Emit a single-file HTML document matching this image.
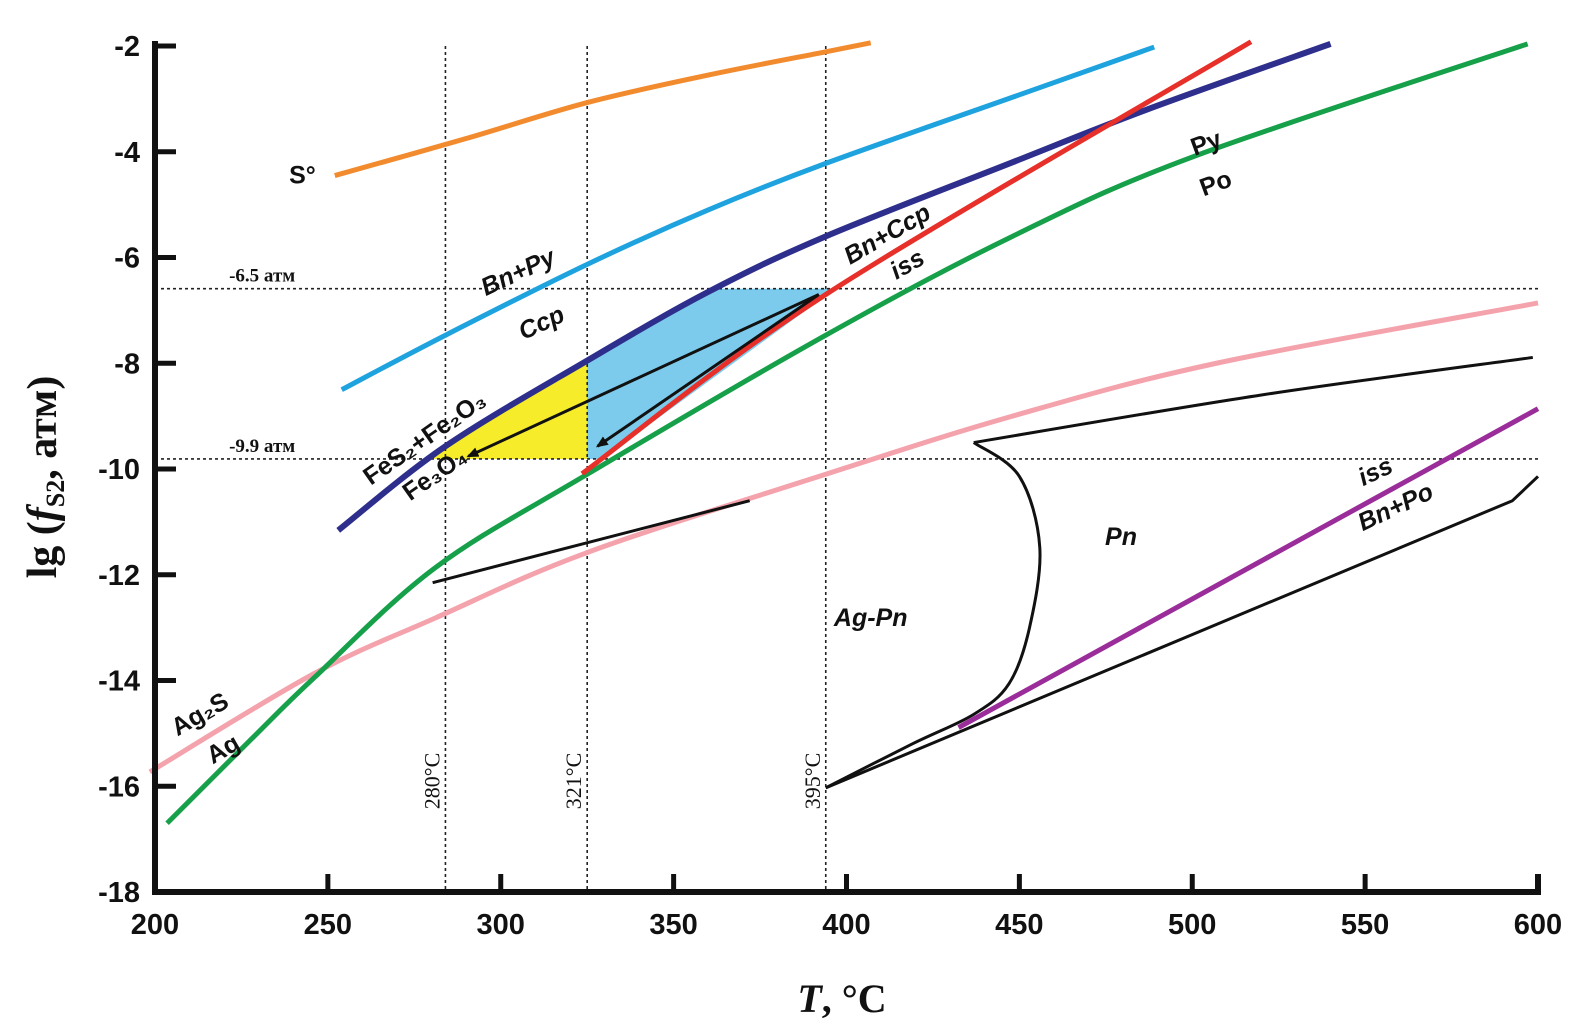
<!DOCTYPE html>
<html><head><meta charset="utf-8"><style>
html,body{margin:0;padding:0;background:#fff;}
svg{display:block;}
.tk{font-family:"Liberation Sans",sans-serif;font-weight:bold;font-size:29px;fill:#111;}
.lb{font-family:"Liberation Sans",sans-serif;font-weight:bold;font-style:italic;font-size:25px;fill:#111;}
.sf{font-family:"Liberation Serif",serif;fill:#111;}
</style></head><body>
<svg id="chart" width="1593" height="1027" viewBox="0 0 1593 1027" xmlns="http://www.w3.org/2000/svg"></svg>
<script>
const xTicks=[200,250,300,350,400,450,500,550,600];
const yTicks=[-2,-4,-6,-8,-10,-12,-14,-16,-18];
const sulfurT=[252,290,325,360,394,407];
const sulfurV=[-4.45,-3.75,-3.07,-2.55,-2.11,-1.94];
const cyanT=[254,284,325,360,394,448,489];
const cyanV=[-8.5,-7.47,-6.13,-5.1,-4.22,-2.97,-2.02];
const navyT=[253,284,325,360,394,448,487,540];
const navyV=[-11.16,-9.57,-7.95,-6.65,-5.6,-4.2,-3.2,-1.96];
const redT=[323.5,394,517];
const redV=[-10.09,-6.7,-1.92];
const greenT=[203.5,228,246,281,325,394,448,500,597];
const greenV=[-16.7,-15.1,-13.95,-11.87,-10.1,-7.47,-5.6,-4.1,-1.96];
const pinkT=[198.5,246,281,325,394,448,507,600];
const pinkV=[-15.73,-13.87,-12.82,-11.58,-10.1,-9.0,-8.0,-6.86];
const agPnT=[280.3,372];
const agPnV=[-12.15,-10.6];
const pnTopT=[436.8,520,598.5];
const pnTopV=[-9.5,-8.6,-7.89];
const pnCurveT=[436.8,450,455.9,452.9,447,436.8,419,394];
const pnCurveV=[-9.5,-10.14,-11.48,-13.01,-14.06,-14.64,-15.2,-16.03];
const purpleT=[432.4,600];
const purpleV=[-14.89,-8.86];
const lowerT=[394,592.6,600];
const lowerV=[-16.03,-10.6,-10.14];
const vLines=[284,325,394];
const vLabels=["280°C","321°C","395°C"];
const hLines=[-6.59,-9.81];
const hLabels=["-6.5 атм","-9.9 атм"];

const svg=document.getElementById('chart');
const NS='http://www.w3.org/2000/svg';
function X(t){return 155+(t-200)*(1538-155)/400;}
function Y(v){return 46+(-2-v)*(892-46)/16;}
function mk(tag,at,parent){const e=document.createElementNS(NS,tag);for(const k in at)e.setAttribute(k,at[k]);(parent||svg).appendChild(e);return e;}
function smooth(T,V,lin){
  const p=T.map((t,i)=>[X(t),Y(V[i])]);
  let d='M'+p[0][0]+','+p[0][1];
  for(let i=0;i<p.length-1;i++){
    if(lin){d+=' L'+p[i+1];continue;}
    const p0=p[i-1]||p[i],p1=p[i],p2=p[i+1],p3=p[i+2]||p2;
    const c1=[p1[0]+(p2[0]-p0[0])/6,p1[1]+(p2[1]-p0[1])/6];
    const c2=[p2[0]-(p3[0]-p1[0])/6,p2[1]-(p3[1]-p1[1])/6];
    d+=' C'+c1+' '+c2+' '+p2;
  }
  return d;
}
function interp(T,V,t){for(let i=0;i<T.length-1;i++){if(t>=T[i]&&t<=T[i+1])return V[i]+(V[i+1]-V[i])*(t-T[i])/(T[i+1]-T[i]);}return t<T[0]?V[0]:V[V.length-1];}
function inv(T,V,v){for(let i=0;i<T.length-1;i++){const a=V[i],b=V[i+1];if((v-a)*(v-b)<=0)return T[i]+(T[i+1]-T[i])*(v-a)/(b-a);}return T[0];}

// regions
const hi=hLines[0],lo=hLines[1],vx=vLines[1];
let yp=[];
const tA=inv(navyT,navyV,lo);
for(let t=tA;t<=vx;t+=2)yp.push([X(t),Y(interp(navyT,navyV,t))]);
yp.push([X(vx),Y(interp(navyT,navyV,vx))],[X(vx),Y(lo)]);
const yel=mk('polygon',{points:yp.map(p=>p.join(',')).join(' '),fill:'#f7ec2a'});


let bp=[];
const tB=inv(navyT,navyV,hi);
for(let t=vx;t<=tB;t+=2)bp.push([X(t),Y(interp(navyT,navyV,t))]);
const tR=inv(redT,redV,hi),tR2=inv(redT,redV,lo);
bp.push([X(tB),Y(hi)],[X(tR),Y(hi)],[X(tR2),Y(lo)],[X(vx),Y(lo)]);
const blu=mk('polygon',{points:bp.map(p=>p.join(',')).join(' '),fill:'#7ccbec'});



// dotted guide lines
vLines.forEach((t,i)=>{
  const l=mk('line',{x1:X(t),x2:X(t),y1:46,y2:892,stroke:'#222','stroke-width':1.6,'stroke-dasharray':'3,3'});
  
  
  const tx=mk('text',{x:0,y:0,transform:'translate('+(X(t)-6)+','+(Y(-15.9))+') rotate(-90)','text-anchor':'middle','class':'sf','font-size':'22'});
  tx.textContent=vLabels[i];
  
  
});
hLines.forEach((v,i)=>{
  const l=mk('line',{x1:155,x2:1538,y1:Y(v),y2:Y(v),stroke:'#222','stroke-width':1.6,'stroke-dasharray':'3,3'});
  
  
  const tx=mk('text',{x:X(231),y:Y(v)-7,'text-anchor':'middle','class':'sf','font-size':'19','font-weight':'bold'});
  tx.textContent=hLabels[i];
  
  
});

// curves
function curve(T,V,col,w,name,lin){
  const p=mk('path',{d:smooth(T,V,lin),fill:'none',stroke:col,'stroke-width':w,'stroke-linecap':'butt','stroke-linejoin':'round'});
  
  
}
curve(pinkT,pinkV,'#f4a3ac',5,'ag2s-ag-curve');
curve(sulfurT,sulfurV,'#f28a2e',5,'sulfur-curve');
curve(cyanT,cyanV,'#1fa3df',5,'bn-py-ccp-curve');
curve(navyT,navyV,'#2e2f8c',6,'fes2-fe3o4-curve');
curve(greenT,greenV,'#16a04a',5,'py-po-curve');
curve(redT,redV,'#e8302a',5,'bn-ccp-iss-curve');
curve(agPnT,agPnV,'#111',3,'ag-pn-curve',true);
curve(pnTopT,pnTopV,'#111',3,'pn-top-curve');
curve(pnCurveT,pnCurveV,'#111',3,'pn-boundary-curve');
curve(purpleT,purpleV,'#9a2d9a',5,'iss-bn-po-curve',true);
curve(lowerT,lowerV,'#111',3,'pn-lower-curve',true);

// arrows
const defs=mk('defs',{});
const m=mk('marker',{id:'ah',markerWidth:12,markerHeight:10,refX:10,refY:5,orient:'auto',markerUnits:'userSpaceOnUse'},defs);
mk('path',{d:'M0,0 L12,5 L0,10 z',fill:'#111'},m);
const arrowStartT=[392],arrowStartV=[-6.7];
const arrowEndT=[290.6,328],arrowEndV=[-9.76,-9.57];
arrowEndT.forEach((t,i)=>{
  const a=mk('line',{x1:X(arrowStartT[0]),y1:Y(arrowStartV[0]),x2:X(t),y2:Y(arrowEndV[i]),stroke:'#111','stroke-width':3,'marker-end':'url(#ah)'});
  
  
});

// axes
const ax=mk('path',{d:'M155,41 L155,892 L1538,892 L1538,874',fill:'none',stroke:'#111','stroke-width':6});


yTicks.forEach(v=>{
  mk('line',{x1:155,x2:176,y1:Y(v),y2:Y(v),stroke:'#111','stroke-width':5});
  const t=mk('text',{x:140,y:Y(v)+10,'text-anchor':'end','class':'tk'});
  t.textContent=String(v);
  
  
});
xTicks.forEach(v=>{
  mk('line',{x1:X(v),x2:X(v),y1:892,y2:874,stroke:'#111','stroke-width':5});
  const t=mk('text',{x:X(v),y:934,'text-anchor':'middle','class':'tk'});
  t.textContent=String(v);
  
  
});

// curve labels
const labs=[
 ['S°',246.5,-4.45,0,'end'],['Bn+Py',305,-6.28,-25],['Ccp',311.8,-7.24,-25],
 ['FeS₂+Fe₂O₃',278,-9.42,-35],['Fe₃O₄',281,-10.1,-35],['Bn+Ccp',411.8,-5.56,-30],
 ['iss',417.6,-6.13,-30],['Py',504,-3.84,-20],['Po',506.8,-4.6,-20],['Pn',479.4,-11.29,0],
 ['Ag-Pn',407,-12.82,0],['iss',553,-10.05,-25],['Bn+Po',558.8,-10.72,-25],
 ['Ag₂S',213,-14.64,-30],['Ag',219.7,-15.3,-30]
];
labs.forEach(l=>{
  const t=mk('text',{x:0,y:0,transform:'translate('+X(l[1])+','+Y(l[2])+') rotate('+l[3]+')','text-anchor':l[4]||'middle','dominant-baseline':'central','class':'lb'});
  if(l[0]==='S°'||l[0]==='Py'||l[0]==='Po'||l[0].indexOf('Fe')===0||l[0].indexOf('Ag₂')===0||l[0]==='Ag')t.style.fontStyle='normal';
  t.textContent=l[0];
  
  
});

// axis titles
const xt=mk('text',{x:842,y:1012,'text-anchor':'middle','class':'sf','font-size':'40','font-weight':'bold'});
xt.innerHTML='<tspan font-style="italic">T</tspan>, °C';


const yt=mk('text',{x:0,y:0,transform:'translate(56,477) rotate(-90)','text-anchor':'middle','class':'sf','font-size':'42','font-weight':'bold'});
yt.innerHTML='lg (<tspan font-style="italic">f</tspan><tspan font-size="26" dy="8">S2</tspan><tspan dy="-8">, атм)</tspan>';


</script>
</body></html>
